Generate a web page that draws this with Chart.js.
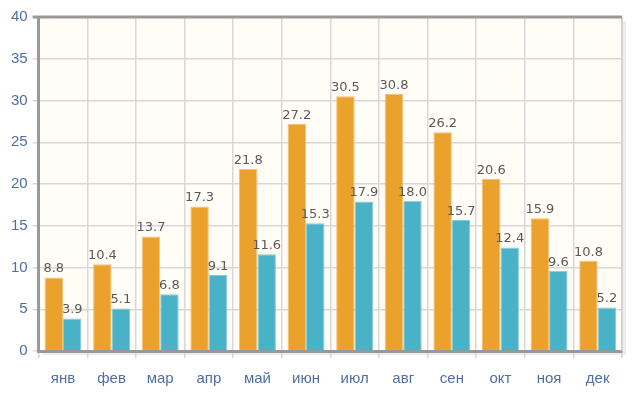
<!DOCTYPE html>
<html>
<head>
<meta charset="utf-8">
<script src="https://cdn.jsdelivr.net/npm/chart.js@4/dist/chart.umd.min.js"></script>
<style>
  body { margin: 0; background: #fff; }
  #wrap { width: 642px; height: 400px; }
</style>
</head>
<body>
<div id="wrap"><canvas id="chart" width="642" height="400"></canvas></div>
<script>
const months = ["янв", "фев", "мар", "апр", "май", "июн", "июл", "авг", "сен", "окт", "ноя", "дек"];
const maxTemps = [8.8, 10.4, 13.7, 17.3, 21.8, 27.2, 30.5, 30.8, 26.2, 20.6, 15.9, 10.8];
const minTemps = [3.9, 5.1, 6.8, 9.1, 11.6, 15.3, 17.9, 18.0, 15.7, 12.4, 9.6, 5.2];

// фон области графика + тень
const plotBg = {
  id: "plotBg",
  beforeDraw(chart) {
    const { ctx, chartArea: a } = chart;
    ctx.save();
    ctx.fillStyle = "rgba(0,0,0,0.07)";
    ctx.fillRect(a.left + 4, a.top + 4, a.width, a.height);
    ctx.fillStyle = "#fffdf6";
    ctx.fillRect(a.left, a.top, a.width, a.height);
    ctx.restore();
  },
  afterDraw(chart) {
    const { ctx, chartArea: a } = chart;
    ctx.save();
    ctx.strokeStyle = "#d0d0d0";
    ctx.lineWidth = 1.5;
    ctx.beginPath();
    ctx.moveTo(a.right, a.top);
    ctx.lineTo(a.right, a.bottom);
    ctx.stroke();
    ctx.strokeStyle = "#999";
    ctx.lineWidth = 3;
    ctx.beginPath();
    ctx.moveTo(a.left - 6, a.top);
    ctx.lineTo(a.right, a.top);
    ctx.stroke();
    ctx.restore();
  }
};

// подписи значений над столбцами
const valueLabels = {
  id: "valueLabels",
  afterDatasetsDraw(chart) {
    const { ctx } = chart;
    ctx.save();
    ctx.font = "13px 'DejaVu Sans'";
    ctx.fillStyle = "#5a5a5a";
    ctx.textAlign = "center";
    ctx.textBaseline = "bottom";
    chart.data.datasets.forEach((ds, i) => {
      chart.getDatasetMeta(i).data.forEach((bar, j) => {
        ctx.fillText(ds.data[j].toFixed(1), bar.x, bar.y - 2);
      });
    });
    ctx.restore();
  }
};

new Chart(document.getElementById("chart"), {
  type: "bar",
  data: {
    labels: months,
    datasets: [
      {
        data: maxTemps,
        backgroundColor: "#eba22d",
        borderColor: "#f3c077",
        borderWidth: 1,
        categoryPercentage: 0.76,
        barPercentage: 1
      },
      {
        data: minTemps,
        backgroundColor: "#4ab2c6",
        borderColor: "#86cbd9",
        borderWidth: 1,
        categoryPercentage: 0.76,
        barPercentage: 1
      }
    ]
  },
  options: {
    responsive: false,
    animation: false,
    layout: { padding: { top: 17, right: 20, left: 6, bottom: 0 } },
    plugins: { legend: { display: false }, tooltip: { enabled: false } },
    scales: {
      x: {
        grid: { color: "#d8d8d8", lineWidth: 1.5, tickLength: 7, offset: true },
        border: { color: "#999", width: 3 },
        ticks: { color: "#4f6ea3", font: { family: "Liberation Sans", size: 15 }, padding: 12 }
      },
      y: {
        min: 0,
        max: 40,
        grid: { color: "#d8d8d8", lineWidth: 1.5, tickLength: 6 },
        border: { color: "#999", width: 3 },
        ticks: { stepSize: 5, color: "#4f6ea3", font: { family: "Liberation Sans", size: 15 }, padding: 5 }
      }
    }
  },
  plugins: [plotBg, valueLabels]
});
</script>
</body>
</html>
